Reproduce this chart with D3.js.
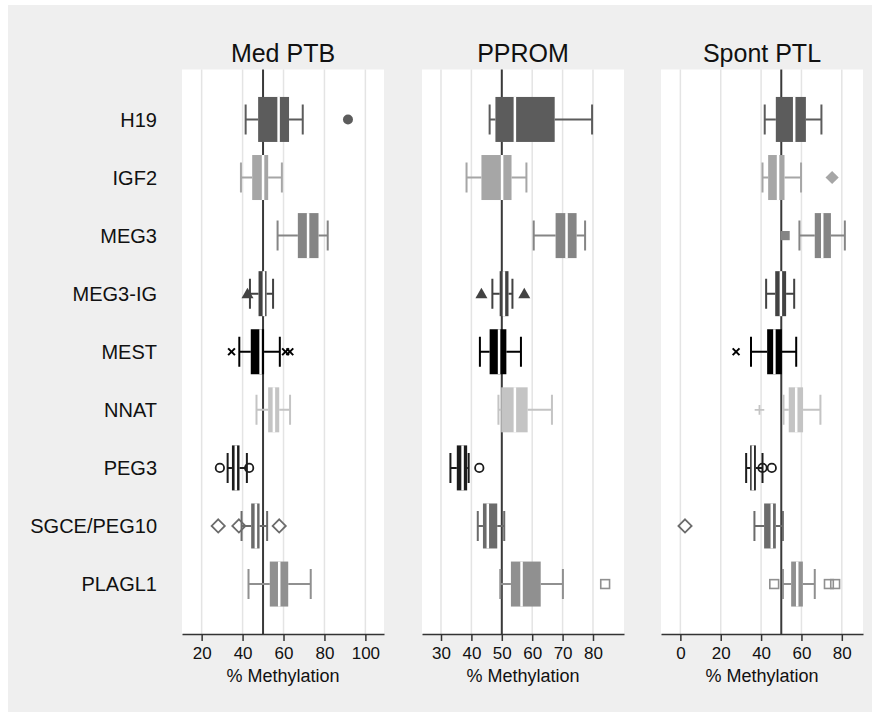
<!DOCTYPE html>
<html>
<head>
<meta charset="utf-8">
<script src="https://cdn.jsdelivr.net/npm/d3@7"></script>
<style>
body { margin: 0; background: #fff; }
svg { display: block; font-family: "Liberation Sans", Arial, sans-serif; }
</style>
</head>
<body>
<div id="chart"></div>
<script>
const genes = ["H19", "IGF2", "MEG3", "MEG3-IG", "MEST", "NNAT", "PEG3", "SGCE/PEG10", "PLAGL1"];
const panelTitles = ["Med PTB", "PPROM", "Spont PTL"];

// per gene: [lower whisker, q1, median, q3, upper whisker]
const medPtbStats = [
    [41.5, 47.6, 57.6, 62.7, 69.4],
    [39.2, 44.7, 50.0, 52.5, 59.2],
    [57.1, 67.0, 72.0, 77.1, 81.6],
    [43.6, 47.8, 50.4, 51.7, 54.9],
    [38.4, 44.0, 48.8, 50.5, 58.2],
    [46.8, 52.5, 55.3, 57.9, 63.2],
    [32.7, 34.8, 36.7, 38.5, 42.1],
    [39.5, 44.2, 46.5, 48.3, 52.0],
    [42.9, 53.3, 57.9, 62.3, 73.3]
];
const ppromStats = [
    [46.0, 47.9, 54.3, 67.4, 79.7],
    [38.4, 43.3, 50.1, 53.2, 58.1],
    [60.5, 67.7, 71.3, 74.6, 77.4],
    [46.9, 49.3, 50.7, 52.2, 53.5],
    [42.8, 46.0, 49.1, 51.5, 56.3],
    [48.9, 49.8, 54.3, 58.5, 66.5],
    [33.1, 35.2, 37.1, 38.6, 39.1],
    [42.1, 43.8, 45.4, 48.5, 50.8],
    [49.5, 53.0, 56.5, 62.8, 70.1]
];
const spontPtlStats = [
    [41.8, 47.3, 56.4, 62.2, 69.9],
    [40.7, 43.5, 48.4, 51.6, 59.8],
    [59.0, 66.6, 70.3, 74.6, 81.5],
    [42.5, 47.0, 49.8, 52.4, 56.4],
    [35.0, 43.0, 46.6, 50.3, 57.4],
    [51.1, 53.7, 57.4, 60.8, 69.4],
    [32.6, 34.6, 35.9, 37.4, 40.7],
    [36.7, 41.5, 45.3, 47.3, 50.8],
    [50.8, 54.9, 57.9, 60.7, 66.6]
];

const medPtbOutliers = [[91.5], [], [], [42.4], [34.6, 61.0, 63.1], [], [28.9, 43.2], [28.1, 38.2, 57.9], []];
const ppromOutliers = [[], [], [], [43.3, 57.4], [], [], [42.6], [], [84.0]];
const spontPtlOutliers = [[], [75.2], [51.9], [], [27.6], [39.2], [40.7, 45.3], [2.3], [46.5, 73.6, 76.7]];

const medPtbTicks = [20, 40, 60, 80, 100];
const ppromTicks = [30, 40, 50, 60, 70, 80];
const spontPtlTicks = [0, 20, 40, 60, 80];
const xDomains = [[10.4, 109.1], [23.75, 90.2], [-9.6, 90.5]];
const referenceValue = 50;

const panels = [
    { title: panelTitles[0], stats: medPtbStats, outliers: medPtbOutliers, ticks: medPtbTicks, domain: xDomains[0] },
    { title: panelTitles[1], stats: ppromStats, outliers: ppromOutliers, ticks: ppromTicks, domain: xDomains[1] },
    { title: panelTitles[2], stats: spontPtlStats, outliers: spontPtlOutliers, ticks: spontPtlTicks, domain: xDomains[2] }
];

// styling
const geneColors = ["#5c5c5c", "#a6a6a6", "#858585", "#424242", "#000000", "#c4c4c4", "#1c1c1c", "#6b6b6b", "#909090"];
const markers = ["circle", "diamond", "square", "triangle", "x", "plus", "ocircle", "odiamond", "osquare"];

const width = 880, height = 717;
const plotTop = 69.5, plotBottom = 634;
const panelLeft = [182, 422, 661];
const panelWidth = 202;

const svg = d3.select("#chart")
    .append("svg")
    .attr("width", width)
    .attr("height", height);

svg.append("rect")
    .attr("x", 8).attr("y", 5)
    .attr("width", width - 16).attr("height", height - 10)
    .attr("fill", "#efefef");

const yScale = d3.scalePoint()
    .domain(genes)
    .range([plotTop, plotBottom])
    .padding(0.86);

svg.append("g")
    .selectAll("text")
    .data(genes)
    .join("text")
    .attr("x", 157)
    .attr("y", d => yScale(d))
    .attr("dy", "0.36em")
    .attr("text-anchor", "end")
    .attr("font-size", 20)
    .attr("fill", "#111")
    .text(d => d);

function drawMarker(g, type, x, y, color) {
    if (type === "circle") {
        g.append("circle").attr("cx", x).attr("cy", y).attr("r", 5).attr("fill", color);
    } else if (type === "ocircle") {
        g.append("circle").attr("cx", x).attr("cy", y).attr("r", 4.2)
            .attr("fill", "none").attr("stroke", color).attr("stroke-width", 1.8);
    } else if (type === "diamond" || type === "odiamond") {
        const r = 6.6;
        g.append("path")
            .attr("d", `M${x},${y - r}L${x + r},${y}L${x},${y + r}L${x - r},${y}Z`)
            .attr("fill", type === "diamond" ? color : "none")
            .attr("stroke", color)
            .attr("stroke-width", type === "diamond" ? 0 : 1.8);
    } else if (type === "square") {
        g.append("rect").attr("x", x - 4.6).attr("y", y - 4.6).attr("width", 9.2).attr("height", 9.2).attr("fill", color);
    } else if (type === "osquare") {
        g.append("rect").attr("x", x - 4.4).attr("y", y - 4.4).attr("width", 8.8).attr("height", 8.8)
            .attr("fill", "none").attr("stroke", color).attr("stroke-width", 1.6);
    } else if (type === "triangle") {
        g.append("path")
            .attr("d", `M${x},${y - 6}L${x + 6},${y + 4.5}L${x - 6},${y + 4.5}Z`)
            .attr("fill", color);
    } else if (type === "x") {
        const r = 3.4;
        g.append("path")
            .attr("d", `M${x - r},${y - r}L${x + r},${y + r}M${x - r},${y + r}L${x + r},${y - r}`)
            .attr("stroke", color).attr("stroke-width", 2);
    } else if (type === "plus") {
        const r = 4.8;
        g.append("path")
            .attr("d", `M${x - r},${y}L${x + r},${y}M${x},${y - r}L${x},${y + r}`)
            .attr("stroke", color).attr("stroke-width", 1.8);
    }
}

panels.forEach((panel, p) => {
    const x0 = panelLeft[p];
    const xScale = d3.scaleLinear()
        .domain(panel.domain)
        .range([x0, x0 + panelWidth]);

    const g = svg.append("g");

    g.append("rect")
        .attr("x", x0).attr("y", plotTop)
        .attr("width", panelWidth).attr("height", plotBottom - plotTop)
        .attr("fill", "#fff");

    g.append("g")
        .selectAll("line")
        .data(panel.ticks)
        .join("line")
        .attr("x1", d => xScale(d)).attr("x2", d => xScale(d))
        .attr("y1", plotTop).attr("y2", plotBottom)
        .attr("stroke", "#e4e4e4")
        .attr("stroke-width", 1.5);

    g.append("line")
        .attr("x1", xScale(referenceValue)).attr("x2", xScale(referenceValue))
        .attr("y1", plotTop).attr("y2", plotBottom)
        .attr("stroke", "#3a3a3a")
        .attr("stroke-width", 2);

    genes.forEach((gene, i) => {
        const s = panel.stats[i];
        const y = yScale(gene);
        const c = geneColors[i];
        const bg = g.append("g");

        bg.append("path")
            .attr("d", `M${xScale(s[0])},${y}L${xScale(s[1])},${y}M${xScale(s[3])},${y}L${xScale(s[4])},${y}` +
                `M${xScale(s[0])},${y - 15}L${xScale(s[0])},${y + 15}M${xScale(s[4])},${y - 15}L${xScale(s[4])},${y + 15}`)
            .attr("stroke", c)
            .attr("stroke-width", 2)
            .attr("fill", "none");

        bg.append("rect")
            .attr("x", xScale(s[1]))
            .attr("y", y - 22.5)
            .attr("width", xScale(s[3]) - xScale(s[1]))
            .attr("height", 45)
            .attr("fill", c);

        bg.append("line")
            .attr("x1", xScale(s[2])).attr("x2", xScale(s[2]))
            .attr("y1", y - 22.5).attr("y2", y + 22.5)
            .attr("stroke", "#fff")
            .attr("stroke-width", 2.5);

        panel.outliers[i].forEach(v => drawMarker(bg, markers[i], xScale(v), y, c));
    });

    const axis = d3.axisBottom(xScale)
        .tickValues(panel.ticks)
        .tickSize(7)
        .tickSizeOuter(0)
        .tickPadding(6);

    const ax = g.append("g")
        .attr("transform", `translate(0,${plotBottom})`)
        .call(axis);
    ax.select(".domain").attr("stroke", "#333").attr("stroke-width", 1.6);
    ax.selectAll(".tick line").attr("stroke", "#333").attr("stroke-width", 1.5);
    ax.selectAll(".tick text")
        .attr("font-size", 17)
        .attr("font-family", "Liberation Sans, Arial, sans-serif")
        .attr("fill", "#111");

    g.append("text")
        .attr("x", x0 + panelWidth / 2)
        .attr("y", 682)
        .attr("text-anchor", "middle")
        .attr("font-size", 18)
        .attr("fill", "#111")
        .text("% Methylation");

    g.append("text")
        .attr("x", x0 + panelWidth / 2)
        .attr("y", 62)
        .attr("text-anchor", "middle")
        .attr("font-size", 25)
        .attr("fill", "#111")
        .text(panel.title);
});
</script>
</body>
</html>
